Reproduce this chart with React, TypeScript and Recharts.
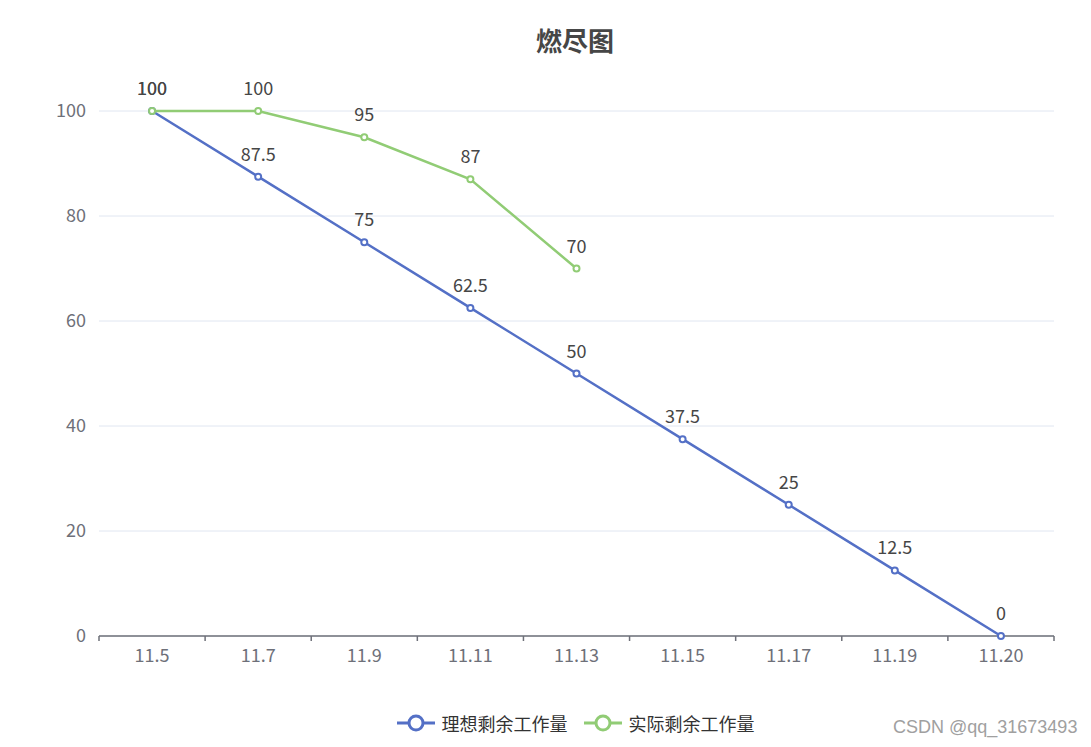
import React from 'react';
import { LineChart, Line, XAxis, YAxis, CartesianGrid, LabelList, Legend } from 'recharts';

const categories = ['11.5', '11.7', '11.9', '11.11', '11.13', '11.15', '11.17', '11.19', '11.20'];
const idealRemaining = [100, 87.5, 75, 62.5, 50, 37.5, 25, 12.5, 0];
const actualRemaining: (number | null)[] = [100, 100, 95, 87, 70, null, null, null, null];
const yTicks = [0, 20, 40, 60, 80, 100];

const seriesNames = { ideal: '理想剩余工作量', actual: '实际剩余工作量' };
const BLUE = '#5470c6';
const GREEN = '#91cc75';

const data = categories.map((name, i) => ({
  i,
  name,
  ideal: idealRemaining[i],
  actual: actualRemaining[i],
}));

// ticks at category centres (labels) and at category boundaries (tick marks)
const xTicks: number[] = [];
for (let k = -1; k <= categories.length * 2 - 1; k++) xTicks.push(k / 2);

const FONT = "'Noto Sans CJK SC', 'Noto Sans', sans-serif";

const XTick = (props: any) => {
  const { x, y, payload } = props;
  const v = payload.value as number;
  if (Number.isInteger(v)) {
    return (
      <text x={x} y={y + 21} textAnchor="middle" fill="#6E7079" fontSize={18} fontFamily={FONT}>
        {categories[v]}
      </text>
    );
  }
  return <line x1={x} x2={x} y1={y - 5} y2={y} stroke="#6E7079" strokeWidth={1.5} />;
};

const LegendContent = (props: any) => {
  const items = [
    { name: seriesNames.ideal, color: BLUE },
    { name: seriesNames.actual, color: GREEN },
  ];
  return (
    <div style={{ display: 'flex', justifyContent: 'center', alignItems: 'center', gap: 16, fontFamily: FONT }}>
      {items.map((it) => (
        <div key={it.name} style={{ display: 'flex', alignItems: 'center' }}>
          <svg width={38} height={20} style={{ marginRight: 7 }}>
            <line x1={0} x2={38} y1={10} y2={10} stroke={it.color} strokeWidth={3} />
            <circle cx={19} cy={10} r={7} fill="#fff" stroke={it.color} strokeWidth={3} />
          </svg>
          <span style={{ fontSize: 18, color: '#333' }}>{it.name}</span>
        </div>
      ))}
    </div>
  );
};

export default function App() {
  return (
    <div
      style={{
        position: 'absolute',
        left: 0,
        top: 0,
        width: 1091,
        height: 747,
        background: '#fff',
        fontFamily: FONT,
        overflow: 'hidden',
      }}
    >
      <div
        style={{
          position: 'absolute',
          left: 475,
          width: 200,
          top: 22,
          textAlign: 'center',
          fontSize: 26,
          fontWeight: 'bold',
          color: '#464646',
          lineHeight: '36px',
        }}
      >
        燃尽图
      </div>
      <LineChart
        width={1091}
        height={747}
        data={data}
        margin={{ top: 111, right: 37, bottom: 71, left: 39 }}
      >
        <CartesianGrid horizontal vertical={false} stroke="#E0E6F1" strokeWidth={1} />
        <XAxis
          type="number"
          dataKey="i"
          domain={[-0.5, categories.length - 0.5]}
          ticks={xTicks}
          interval={0}
          height={40}
          tickSize={5}
          tickMargin={0}
          tickLine={false}
          axisLine={{ stroke: '#6E7079', strokeWidth: 1.5 }}
          tick={<XTick />}
        />
        <YAxis
          type="number"
          domain={[0, 100]}
          ticks={yTicks}
          width={60}
          axisLine={false}
          tickLine={false}
          tickSize={0}
          tickMargin={13}
          tick={{ fill: '#6E7079', fontSize: 18, fontFamily: FONT }}
        />
        <Legend
          layout="horizontal"
          verticalAlign="middle"
          align="center"
          content={<LegendContent />}
          wrapperStyle={{ position: 'absolute', top: 710, left: 60, width: 1031, height: 24 }}
        />
        <Line
          type="linear"
          dataKey="ideal"
          name={seriesNames.ideal}
          stroke={BLUE}
          strokeWidth={2.5}
          dot={{ r: 3, strokeWidth: 2, fill: '#fff', stroke: BLUE }}
          activeDot={false}
          isAnimationActive={false}
        >
          <LabelList dataKey="ideal" position="top" offset={16} fill="#464646" fontSize={18} fontFamily={FONT} />
        </Line>
        <Line
          type="linear"
          dataKey="actual"
          name={seriesNames.actual}
          stroke={GREEN}
          strokeWidth={2.5}
          dot={{ r: 3, strokeWidth: 2, fill: '#fff', stroke: GREEN }}
          activeDot={false}
          connectNulls={false}
          isAnimationActive={false}
        >
          <LabelList dataKey="actual" position="top" offset={16} fill="#464646" fontSize={18} fontFamily={FONT} />
        </Line>
      </LineChart>
      <div
        style={{
          position: 'absolute',
          left: 893,
          top: 717,
          fontSize: 18,
          color: '#a0a0a0',
          fontFamily: "'Liberation Sans', Arial, sans-serif",
          whiteSpace: 'nowrap',
        }}
      >
        CSDN @qq_31673493
      </div>
    </div>
  );
}
